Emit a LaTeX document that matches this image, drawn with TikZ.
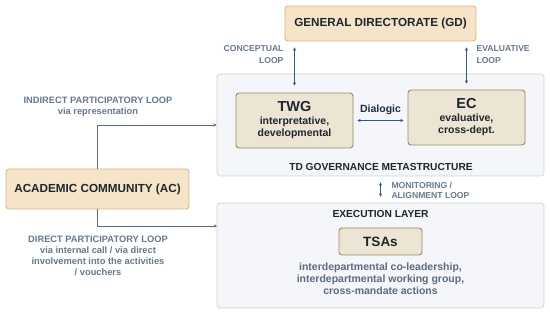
\documentclass[tikz,border=0pt]{standalone}
\usepackage{fontspec}
\setmainfont{Liberation Sans}
\usetikzlibrary{arrows.meta}

\definecolor{tanfill}{HTML}{F5E4C8}
\definecolor{tanline}{HTML}{D6B886}
\definecolor{beigefill}{HTML}{ECE5D4}
\definecolor{beigeline}{HTML}{9B8866}
\definecolor{panelfill}{HTML}{F4F6F9}
\definecolor{panelline}{HTML}{CCD3DC}
\definecolor{loopblue}{HTML}{34578A}
\definecolor{linkgrey}{HTML}{5D6B7D}
\definecolor{labelgrey}{HTML}{66778E}
\definecolor{textdark}{HTML}{1F252E}

\tikzset{
  topbox/.style={draw=tanline, fill=tanfill, line width=0.9pt, rounded corners=3pt,
    text=textdark, font=\fontsize{11.7}{13}\selectfont\bfseries},
  panel/.style={draw=panelline, fill=panelfill, line width=0.7pt, rounded corners=3pt},
  unitbox/.style={draw=beigeline, fill=beigefill, line width=0.9pt, rounded corners=3pt,
    text=textdark, align=center},
  looplabel/.style={text=labelgrey, font=\fontsize{8.6}{12}\selectfont\bfseries},
  partlabel/.style={text=labelgrey, align=center, font=\fontsize{9.3}{11}\selectfont\bfseries},
  heading/.style={text=textdark, font=\fontsize{10.2}{12}\selectfont\bfseries},
  looparrow/.style={draw=loopblue, line width=0.9pt, {Stealth[length=3.2pt,width=3.2pt]}-{Stealth[length=3.2pt,width=3.2pt]}},
  partarrow/.style={draw=linkgrey, line width=0.9pt, -{Stealth[length=3.2pt,width=3.2pt]}}
}

\begin{document}
\begin{tikzpicture}[x=1pt,y=-1pt]
\useasboundingbox (0,0) rectangle (550,315);

% draw panels
\node[panel, minimum width=327, minimum height=102] (meta) at (380.5,125) {};
\node[panel, minimum width=327, minimum height=105] (exec) at (380.5,255.5) {};
\node[heading] (metatitle) at (381,167) {TD GOVERNANCE METASTRUCTURE};
\node[heading] (exectitle) at (380.5,214) {EXECUTION LAYER};

% draw boxes
\node[topbox, minimum width=191, minimum height=35] (gd) at (380.5,23.5) {GENERAL DIRECTORATE (GD)};
\node[topbox, minimum width=183, minimum height=40] (ac) at (97.5,189) {ACADEMIC COMMUNITY (AC)};
\node[unitbox, minimum width=117, minimum height=55] (twg) at (294.5,120.5)
  {{\fontsize{14.5}{18}\selectfont\bfseries TWG}\\[1pt]
   \fontsize{10.5}{12}\selectfont\bfseries interpretative,\\ \fontsize{10.5}{12}\selectfont\bfseries developmental};
\node[unitbox, minimum width=117, minimum height=55] (ec) at (466.5,117.5)
  {{\fontsize{14.5}{18}\selectfont\bfseries EC}\\[1pt]
   \fontsize{10.5}{12}\selectfont\bfseries evaluative,\\ \fontsize{10.5}{12}\selectfont\bfseries cross-dept.};
\node[unitbox, minimum width=83, minimum height=27, font=\fontsize{13.5}{16}\selectfont\bfseries] (tsa) at (380.5,241.5) {TSAs};
\node[text=linkgrey, align=center, font=\fontsize{10.5}{12}\selectfont\bfseries] (tsatext) at (380.5,279)
  {interdepartmental co-leadership,\\ interdepartmental working group,\\ cross-mandate actions};

% draw loops
\draw[looparrow, shorten <=6pt, shorten >=7pt] (gd.south -| twg.north) -- (twg.north);
\draw[looparrow, shorten <=6pt, shorten >=6pt] (gd.south -| ec.north) -- (ec.north);
\draw[looparrow, shorten <=4pt, shorten >=4pt] (twg.east) -- (twg.east -| ec.west);
\draw[looparrow, shorten <=6pt, shorten >=6pt] (meta.south) -- (meta.south |- exec.north);
\node[looplabel, anchor=east, align=right] (concept) at (287,55) {CONCEPTUAL\\LOOP};
\node[looplabel, anchor=west, align=left] (evalu) at (473,55) {EVALUATIVE\\LOOP};
\node[looplabel, anchor=west, align=left, font=\fontsize{8.6}{10}\selectfont\bfseries] (monit) at (388,190.5) {MONITORING /\\ALIGNMENT LOOP};
\node[text=textdark!85!loopblue, font=\fontsize{10.5}{12}\selectfont\bfseries] (dialog) at (380.5,110) {Dialogic};

% draw participation
\coordinate (execin) at (217,226);
\draw[partarrow] (ac.north) |- (meta.west);
\draw[partarrow] (ac.south) |- (execin);
\node[partlabel] (indirect) at (98,107) {INDIRECT PARTICIPATORY LOOP\\ via representation};
\node[partlabel] (direct) at (98,255.5) {DIRECT PARTICIPATORY LOOP\\ via internal call / via direct\\ involvement into the activities\\ / vouchers};

\end{tikzpicture}
\end{document}
